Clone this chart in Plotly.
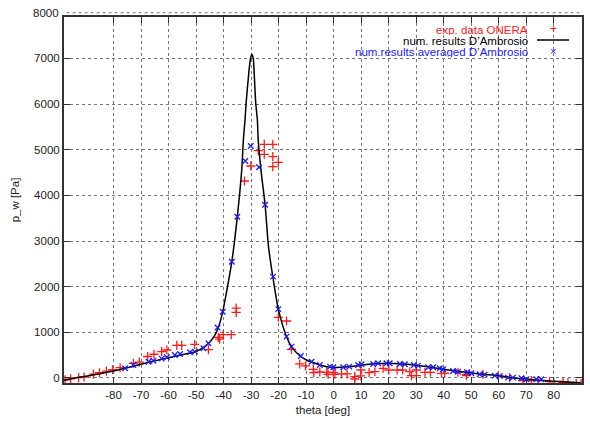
import plotly.graph_objects as go

# ---- data ----
curve_theta = [-98, -95, -90, -85, -80, -75, -70, -65, -60, -55, -50, -47.3, -44.9, -43.1,
               -41.9, -40.5, -39, -37, -35, -33.4, -32.8, -32.2, -31.8, -30.8, -30.2, -29.7,
               -29.2, -28.8, -28.3, -27.7, -27.4, -26.2, -24.9, -23.7, -22.1, -20.1, -17.1,
               -15.3, -12.2, -10, -8, -5, -2, 0, 3, 6, 9, 12, 15, 19, 22, 25, 29, 32, 35,
               40, 45, 50, 55, 60, 65, 70, 75, 80, 85, 90]
curve_p = [-50, -10, 40, 95, 155, 225, 300, 375, 445, 510, 580, 670, 795, 942,
           1105, 1400, 1855, 2547, 3533, 4555, 5212, 5650, 6016, 6700, 7000, 7090,
           7000, 6600, 6016, 5650, 5212, 4450, 3795, 2900, 2219, 1508, 905,
           686, 482, 400, 350, 285, 240, 232, 234, 250, 275, 295, 310, 320, 318, 305, 285, 262, 240,
           190, 148, 110, 78, 48, 5, -25, -48, -70, -88, -102]

exp_theta = [-97.6, -95.6, -92.7, -90.7, -87.3, -85.1, -82.6, -80.3, -77.6, -72.8, -70.6,
             -67.6, -65.3, -62.5, -60.6, -57.0, -55.2, -50.5, -45.5, -41.9, -41.4, -40.1,
             -37.2, -35.4, -35.4, -32.4, -30.1, -27.4, -25.2, -22.1, -25.2, -22.1, -20.1,
             -22.1, -20.1, -17.1, -15.3, -12.3, -10.2, -7.4, -7.2, -5.0, -2.5, -2.0, -0.1,
             0.5, 2.9, 4.9, 7.7, 7.7, 9.9, 9.9, 12.9, 15.0, 18.0, 20.1, 23.1, 25.1, 27.7,
             28.3, 30.1, 30.1, 33.2, 35.2, 39.2, 40.4, 45.2, 48.3, 48.3, 54.3, 59.8, 64.0,
             68.8, 71.9, 74.3, 78.5, 80.0, 83.4, 85.2, 88.2, 90.0]
exp_p = [-40, -20, 7, 20, 85, 116, 150, 180, 225, 322, 347,
         470, 520, 577, 613, 715, 715, 735, 620, 890, 850, 950,
         950, 1530, 1435, 4314, 4643, 4978, 5118, 5118, 4899, 4847, 4724,
         4628, 1329, 1248, 628, 307, 263, 190, 117, 131, 124, 80, 124,
         80, 88, 88, 29, -22, 175, 44, 117, 138, 212, 175, 175, 175, 138,
         51, 175, 51, 124, 124, 102, 102, 124, 81, 50, 81, 44, 7,
         -58, -58, -58, -80, -80, -102, -102, -116, -116]

avg_theta = [-75.8, -72.8, -67.3, -65.5, -62.5, -60.6, -57.7, -55.8, -52.2, -50.4, -47.3,
             -45.5, -42.2, -40.3, -37.0, -35.0, -32.1, -30.1, -27.1, -24.9, -22.0, -20.1,
             -17.1, -15.3, -11.9, -8.0, -5.0, -1.3, -0.1, 3.5, 5.7, 8.9, 10.2, 14.4, 16.2,
             19.2, 20.4, 24.1, 25.9, 29.2, 30.7, 34.4, 36.2, 38.6, 39.8, 43.4, 45.2, 48.5,
             50.1, 53.1, 54.9, 58.6, 60.4, 63.4, 65.2, 68.3, 70.1, 73.7, 75.5]
avg_p = [212, 285, 357, 379, 423, 453, 504, 526, 562, 577, 650,
         760, 1106, 1452, 2547, 3533, 4752, 5081, 4614, 3795, 2219, 1508,
         905, 686, 482, 357, 285, 248, 234, 234, 248, 285, 300, 307, 322,
         322, 322, 307, 300, 285, 270, 234, 234, 212, 190, 153, 138, 124,
         102, 81, 73, 51, 44, 7, 7, -7, -28, -28, -28]

x_ticks = [-80, -70, -60, -50, -40, -30, -20, -10, 0, 10, 20, 30, 40, 50, 60, 70, 80]
y_ticks = [0, 1000, 2000, 3000, 4000, 5000, 6000, 7000]
y_top_label = 8000

# ---- style ----
FONT = "Liberation Sans, Arial, Helvetica, sans-serif"
X0, X1 = -98, 90.3
Y0, Y1 = -110, 7906
RED = "#ff1a1a"
BLUE = "#1a1aff"
ML, MR, MT, MB = 64, 8, 17, 41
W, HH = 590, 424
PW, PH = W - ML - MR, HH - MT - MB

fig = go.Figure()
fig.add_trace(go.Scatter(x=exp_theta, y=exp_p, mode="markers", name="exp. data ONERA",
                         marker=dict(symbol="cross-thin", size=6.5,
                                     line=dict(color=RED, width=1.3), color=RED)))
fig.add_trace(go.Scatter(x=curve_theta, y=curve_p, mode="lines", name="num. results D’Ambrosio",
                         line=dict(color="black", width=1.5, shape="spline", smoothing=0.6)))
fig.add_trace(go.Scatter(x=avg_theta, y=avg_p, mode="markers",
                         name="num.results averaged D’Ambrosio",
                         marker=dict(symbol="x-thin", size=5.5,
                                     line=dict(color=BLUE, width=1.3), color=BLUE)))

axis_common = dict(showline=True, linecolor="#333", linewidth=2, mirror="ticks",
                   ticks="inside", ticklen=6, tickcolor="#333", tickwidth=1,
                   showgrid=True, gridcolor="#777", griddash="dot", gridwidth=1,
                   zeroline=False, automargin=False,
                   tickfont=dict(family=FONT, size=11.5, color="#222"))

fig.update_xaxes(range=[X0, X1], tickmode="array", tickvals=x_ticks,
                 ticktext=[str(v) for v in x_ticks],
                 title=dict(text="theta [deg]", font=dict(family=FONT, size=11.5, color="#222"),
                            standoff=6),
                 **axis_common)
fig.update_yaxes(range=[Y0, Y1], tickmode="array", tickvals=y_ticks,
                 ticktext=[str(v) for v in y_ticks],
                 title=dict(text="p_w [Pa]", font=dict(family=FONT, size=11.5, color="#222"),
                            standoff=12),
                 **axis_common)

# 8000 gridline/label sits just above the frame in the reference
y8 = (y_top_label - Y0) / (Y1 - Y0)
fig.add_shape(type="line", xref="paper", yref="paper", x0=0.005, x1=1, y0=y8, y1=y8,
              line=dict(color="#777", width=1, dash="dot"))
fig.add_annotation(xref="paper", yref="paper", x=0, y=y8, text=str(y_top_label),
                   showarrow=False, xanchor="right", yanchor="middle", xshift=-3,
                   font=dict(family=FONT, size=11.5, color="#222"))

# custom key (text right-aligned, sample at right)
key = [("exp. data ONERA", RED, "+"),
       ("num. results D’Ambrosio", "black", "line"),
       ("num.results averaged D’Ambrosio", BLUE, "×")]
key_y = [29.5, 40, 50.5]
for (txt, col, smp), py in zip(key, key_y):
    yp = 1 - (py - MT) / PH
    fig.add_annotation(xref="paper", yref="paper", x=(530 - ML) / PW, y=yp, text=txt,
                       showarrow=False, xanchor="right", yanchor="middle", height=10,
                       yshift=-1, font=dict(family=FONT, size=11.5, color=col))
    if smp == "line":
        fig.add_shape(type="line", xref="paper", yref="paper",
                      x0=(537 - ML) / PW, x1=(569 - ML) / PW, y0=yp, y1=yp,
                      line=dict(color="black", width=1.5))
    else:
        fig.add_annotation(xref="paper", yref="paper", x=(553 - ML) / PW, y=yp, text=smp,
                           showarrow=False, xanchor="center", yanchor="middle", height=10,
                           font=dict(family=FONT, size=12 if smp == "+" else 11, color=col))

fig.update_layout(width=W, height=HH, margin=dict(l=ML, r=MR, t=MT, b=MB),
                  paper_bgcolor="white", plot_bgcolor="white", showlegend=False,
                  font=dict(family=FONT, size=11.5, color="#222"))

fig.write_html("out.html", config={"displayModeBar": False},
               post_script="document.body.style.margin='0';document.body.style.overflow='hidden';")
